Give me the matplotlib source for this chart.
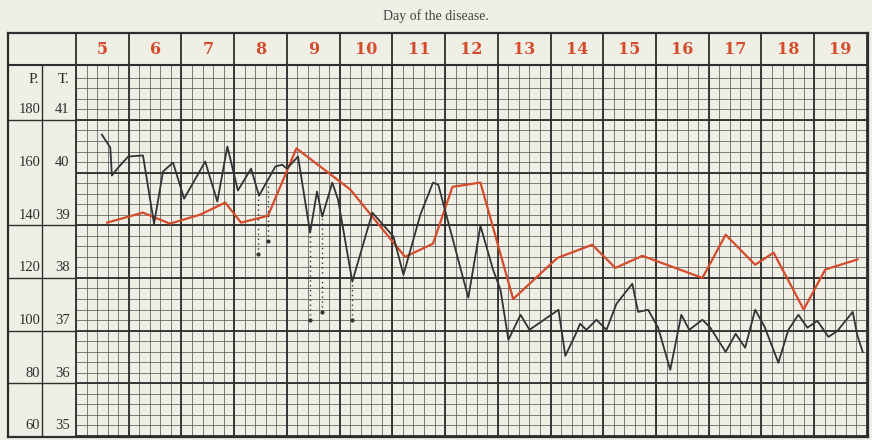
import numpy as np
import matplotlib
matplotlib.use("Agg")
import matplotlib.pyplot as plt

# day of disease shown in the header
days = list(range(5, 20))
# pulse / temperature scale labels
pulse_labels = [180, 160, 140, 120, 100, 80, 60]
temp_labels = [41, 40, 39, 38, 37, 36, 35]

# temperature curve (red), x in days, y in deg C
temp_x = [5.59, 6.27, 6.78, 7.35, 7.83, 8.13, 8.64, 9.18, 10.20, 11.24, 11.77, 12.14,
          12.67, 13.29, 14.13, 14.79, 15.23, 15.74, 16.88, 17.32, 17.88, 18.23, 18.80,
          19.21, 19.82]
temp_y = [39.05, 39.24, 39.03, 39.20, 39.43, 39.05, 39.18, 40.46, 39.68, 38.40, 38.65,
          39.73, 39.81, 37.60, 38.38, 38.63, 38.19, 38.42, 38.00, 38.82, 38.25, 38.48,
          37.40, 38.16, 38.35]

# pulse curve (black), x in days, y in beats per minute
pulse_x = [5.49, 5.65, 5.68, 5.80, 5.99, 6.27, 6.48, 6.65, 6.84, 7.05, 7.45, 7.68, 7.87,
           8.07, 8.32, 8.47, 8.78, 8.91, 9.00, 9.21, 9.44, 9.57, 9.67, 9.86, 9.97, 10.24,
           10.62, 11.02, 11.21, 11.53, 11.77, 11.87, 12.44, 12.67, 12.91, 13.05, 13.20,
           13.43, 13.60, 14.15, 14.28, 14.47, 14.56, 14.68, 14.87, 15.06, 15.25, 15.55,
           15.66, 15.85, 16.04, 16.27, 16.48, 16.63, 16.88, 17.03, 17.32, 17.51, 17.69,
           17.88, 18.06, 18.32, 18.51, 18.70, 18.87, 19.06, 19.27, 19.44, 19.73, 19.82,
           19.92]
pulse_y = [174.4, 169.5, 158.9, 161.9, 166.1, 166.5, 140.6, 160.4, 163.8, 150.1, 164.2,
           149.0, 169.9, 153.2, 161.5, 151.2, 162.3, 163.0, 161.5, 166.1, 137.2, 152.8,
           143.3, 156.2, 149.7, 118.6, 144.8, 135.7, 121.2, 144.0, 156.2, 155.4, 112.5,
           139.8, 123.1, 115.5, 96.5, 106.0, 100.3, 107.9, 90.4, 98.4, 102.6, 100.3, 104.1,
           100.3, 110.2, 117.8, 107.1, 107.9, 101.1, 85.1, 106.0, 100.3, 104.1, 101.1,
           91.9, 98.8, 93.5, 107.9, 101.4, 87.8, 100.3, 106.0, 101.1, 103.7, 97.6, 99.9,
           107.1, 98.0, 91.9]

# dotted drop lines under some pulse minima
drop_x = [8.45, 8.64, 9.44, 9.67, 10.24]
drop_top = [151, 156, 137, 143, 119]
drop_bottom = [129, 134, 104, 107, 104]

paper = "#f0efe6"
ink = "#2e2e2e"
red = "#d44c2b"

fig = plt.figure(figsize=(8.72, 4.4), dpi=100, facecolor=paper)
ax = fig.add_axes([8 / 872, 3 / 440, 860 / 872, 404 / 440])
ax.set_facecolor(paper)
x_lo, x_hi = 3.71, 20.02
y_lo, y_hi = 34.98, 42.65
ax.set_xlim(x_lo, x_hi)
ax.set_ylim(y_lo, y_hi)
ax.set_xticks([])
ax.set_yticks([])
for s in ax.spines.values():
    s.set_linewidth(1.6)
    s.set_color(ink)

grid_top = 42.05
# minor grid, 5 divisions per day and per degree
for v in np.arange(5, 20, 0.2):
    ax.vlines(v, 35, grid_top, color="#5a5a5a", lw=0.55, zorder=1)
for v in np.arange(35, 42.0, 0.2):
    ax.hlines(v, 5, 20, color="#5a5a5a", lw=0.55, zorder=1)
# major grid
for d in range(5, 21):
    ax.vlines(d, 35, y_hi, color=ink, lw=1.3, zorder=2)
for t in range(35, 42):
    ax.hlines(t, 5, 20, color=ink, lw=1.3, zorder=2)
ax.hlines(grid_top, x_lo, 20, color=ink, lw=1.5, zorder=2)
ax.hlines(41, x_lo, 5, color=ink, lw=1.0, zorder=2)
for t in [39, 38, 37, 36]:
    ax.hlines(t, x_lo, 5, color=ink, lw=1.0, zorder=2)
ax.vlines(4.355, 35, grid_top, color=ink, lw=1.0, zorder=2)

# header day numbers
for d in days:
    ax.text(d + 0.5, 42.33, str(d), color=red, fontsize=11.5, fontweight="bold",
            family="DejaVu Serif", ha="center", va="center")

# scale labels
ax.text(4.3, 41.76, "P.", fontsize=11, family="Liberation Serif", ha="right",
        va="center", color=ink)
ax.text(4.87, 41.76, "T.", fontsize=11, family="Liberation Serif", ha="right",
        va="center", color=ink)
for p, t in zip(pulse_labels, temp_labels):
    ax.text(4.32, t + 0.19, str(p), fontsize=10.5, family="Liberation Serif",
            ha="right", va="center", color=ink)
    ax.text(4.88, t + 0.19, str(t), fontsize=10.5, family="Liberation Serif",
            ha="right", va="center", color=ink)

fig.text(0.5, 1 - 16 / 440, "Day of the disease.", fontsize=10,
         family="Liberation Serif", ha="center", va="center", color="#444444")

# pulse axis on the same frame: 20 beats per degree, 60 at 35 deg
ax2 = ax.twinx()
ax2.set_ylim((y_lo - 35) * 20 + 60, (y_hi - 35) * 20 + 60)
ax2.set_yticks([])
for s in ax2.spines.values():
    s.set_visible(False)

ax.plot(temp_x, temp_y, color=red, lw=1.6, zorder=5)
ax2.plot(pulse_x, pulse_y, color="#333333", lw=1.3, zorder=4)
ax2.vlines(drop_x, drop_bottom, drop_top, color="#333333", lw=1.0,
           linestyles=(0, (1, 2.5)), zorder=4)
ax2.plot(drop_x, drop_bottom, "o", color="#333333", ms=2, zorder=4)

fig.savefig("out.png", dpi=100, facecolor=paper)
